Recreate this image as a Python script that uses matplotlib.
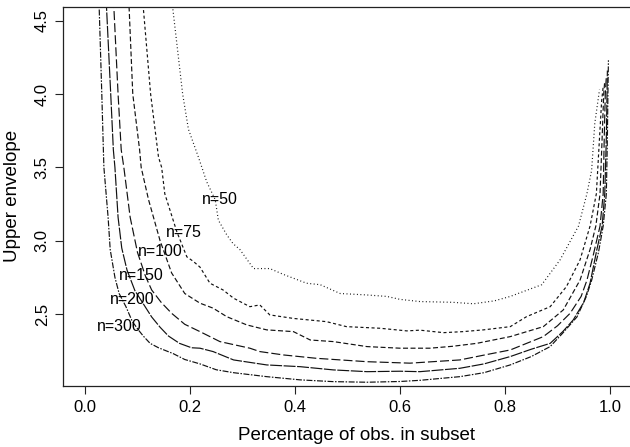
import matplotlib
matplotlib.use("Agg")
import matplotlib.pyplot as plt

plt.rcParams["font.family"] = ["Liberation Sans", "DejaVu Sans"]

# upper envelope curves, one per sample size n
x_n50 = [0.160, 0.167, 0.186, 0.197, 0.216, 0.232, 0.248, 0.254, 0.270, 0.282, 0.295, 0.321,
         0.352, 0.378, 0.422, 0.448, 0.486, 0.537, 0.575, 0.600, 0.638, 0.700, 0.740, 0.780,
         0.810, 0.840, 0.870, 0.905, 0.940, 0.956, 0.965, 0.971, 0.980]
y_n50 = [4.90, 4.59, 4.00, 3.76, 3.57, 3.40, 3.28, 3.14, 3.04, 2.98, 2.94, 2.81,
         2.81, 2.77, 2.71, 2.70, 2.64, 2.63, 2.62, 2.60, 2.585, 2.58, 2.57, 2.59,
         2.62, 2.66, 2.70, 2.87, 3.10, 3.32, 3.48, 3.80, 4.03]

x_n75 = [0.106, 0.111, 0.125, 0.140, 0.146, 0.152, 0.175, 0.194, 0.206, 0.219, 0.238, 0.263,
         0.283, 0.314, 0.333, 0.352, 0.397, 0.460, 0.498, 0.562, 0.613, 0.638, 0.683, 0.720,
         0.759, 0.810, 0.841, 0.886, 0.917, 0.943, 0.962, 0.974, 0.980, 0.984, 0.987]
y_n75 = [4.90, 4.59, 4.00, 3.57, 3.50, 3.32, 3.06, 2.89, 2.86, 2.82, 2.71, 2.664,
         2.608, 2.55, 2.562, 2.494, 2.47, 2.448, 2.414, 2.403, 2.385, 2.39, 2.373, 2.38,
         2.392, 2.414, 2.482, 2.55, 2.687, 2.87, 3.10, 3.32, 3.70, 3.95, 4.05]

x_n100 = [0.080, 0.084, 0.091, 0.104, 0.107, 0.121, 0.143, 0.165, 0.190, 0.219, 0.244, 0.270,
          0.308, 0.346, 0.397, 0.429, 0.473, 0.537, 0.600, 0.657, 0.700, 0.746, 0.810, 0.873,
          0.911, 0.943, 0.962, 0.973, 0.981, 0.985, 0.988, 0.990]
y_n100 = [4.90, 4.59, 4.00, 3.62, 3.50, 3.28, 3.00, 2.78, 2.64, 2.574, 2.54, 2.482,
          2.426, 2.392, 2.38, 2.323, 2.312, 2.278, 2.267, 2.267, 2.28, 2.30, 2.346, 2.414,
          2.528, 2.732, 2.94, 3.10, 3.32, 3.70, 4.00, 4.09]

x_n150 = [0.052, 0.055, 0.063, 0.069, 0.074, 0.086, 0.100, 0.115, 0.127, 0.145, 0.165, 0.190,
          0.219, 0.257, 0.314, 0.333, 0.378, 0.441, 0.537, 0.619, 0.714, 0.760, 0.810, 0.873,
          0.900, 0.924, 0.945, 0.956, 0.968, 0.981, 0.987, 0.989, 0.991, 0.993]
y_n150 = [4.90, 4.59, 4.00, 3.62, 3.50, 3.16, 2.92, 2.76, 2.664, 2.58, 2.505, 2.43,
          2.38, 2.312, 2.267, 2.244, 2.221, 2.198, 2.175, 2.165, 2.187, 2.22, 2.255, 2.346,
          2.42, 2.505, 2.62, 2.73, 2.90, 3.10, 3.32, 3.70, 4.00, 4.12]

x_n200 = [0.038, 0.041, 0.049, 0.054, 0.057, 0.063, 0.070, 0.080, 0.095, 0.111, 0.127, 0.143,
          0.159, 0.180, 0.203, 0.219, 0.244, 0.283, 0.346, 0.410, 0.473, 0.537, 0.600, 0.638,
          0.714, 0.760, 0.810, 0.850, 0.886, 0.910, 0.930, 0.950, 0.962, 0.975, 0.985, 0.990,
          0.993, 0.995]
y_n200 = [4.90, 4.59, 4.00, 3.62, 3.50, 3.16, 2.95, 2.80, 2.66, 2.57, 2.48, 2.41,
          2.35, 2.30, 2.27, 2.267, 2.244, 2.187, 2.153, 2.141, 2.119, 2.107, 2.11, 2.107,
          2.13, 2.16, 2.21, 2.26, 2.30, 2.38, 2.46, 2.58, 2.71, 2.94, 3.10, 3.32,
          3.70, 4.16]

x_n300 = [0.022, 0.027, 0.032, 0.035, 0.036, 0.044, 0.048, 0.057, 0.065, 0.078, 0.090, 0.102,
          0.111, 0.124, 0.140, 0.168, 0.190, 0.219, 0.250, 0.283, 0.346, 0.410, 0.473, 0.537,
          0.600, 0.638, 0.714, 0.760, 0.810, 0.850, 0.886, 0.910, 0.937, 0.955, 0.965, 0.978,
          0.987, 0.993, 0.995, 0.996, 0.997]
y_n300 = [4.90, 4.59, 4.00, 3.62, 3.50, 3.16, 2.94, 2.75, 2.64, 2.55, 2.45, 2.39,
          2.35, 2.30, 2.27, 2.23, 2.19, 2.16, 2.12, 2.10, 2.073, 2.051, 2.039, 2.035,
          2.04, 2.048, 2.073, 2.10, 2.153, 2.21, 2.278, 2.37, 2.48, 2.62, 2.73, 2.92,
          3.10, 3.32, 3.70, 4.00, 4.23]

sizes = ["n=50", "n=75", "n=100", "n=150", "n=200", "n=300"]
curves_x = [x_n50, x_n75, x_n100, x_n150, x_n200, x_n300]
curves_y = [y_n50, y_n75, y_n100, y_n150, y_n200, y_n300]
label_x = [0.256, 0.188, 0.143, 0.108, 0.090, 0.065]
label_y = [3.283, 3.058, 2.925, 2.760, 2.596, 2.414]

dash_styles = [
    (0, (0.7, 1.8)),
    (0, (2.2, 1.8)),
    (0, (3.6, 1.8)),
    (0, (6.5, 2.2)),
    (0, (8.6, 1.1)),
    (0, (4.3, 1.1, 1.1, 1.1)),
]

plt.rcParams["lines.scale_dashes"] = False

fig = plt.figure(figsize=(6.3, 4.47), dpi=100)
ax = fig.add_axes([0.1, 0.1371, 0.9016, 0.8472])

for xs, ys, ls in zip(curves_x, curves_y, dash_styles):
    ax.plot(xs, ys, color="#111111", lw=0.85, linestyle=ls)

for lab, lx, ly in zip(sizes, label_x, label_y):
    ax.text(lx, ly, lab, ha="center", va="center", fontsize=11.5)

ax.set_xlim(-0.0419, 1.04)
ax.set_ylim(2.0112, 4.5934)
ax.set_xticks([0.0, 0.2, 0.4, 0.6, 0.8, 1.0])
ax.set_yticks([2.5, 3.0, 3.5, 4.0, 4.5])
ax.set_xticklabels(["0.0", "0.2", "0.4", "0.6", "0.8", "1.0"], fontsize=12)
ax.set_yticklabels(["2.5", "3.0", "3.5", "4.0", "4.5"], fontsize=12,
                   rotation=90, va="center")
ax.tick_params(direction="out", length=5.5, width=0.8, color="#222222", pad=5)
ax.tick_params(axis="y", pad=4)
for side in ax.spines.values():
    side.set_linewidth(0.9)
    side.set_color("#222222")

ax.set_xlabel("Percentage of obs. in subset", fontsize=13.5, va="center")
ax.set_ylabel("Upper envelope", fontsize=13.5, va="center")
ax.xaxis.set_label_coords((356.5 - 63) / 568, -50 / 378.7)
ax.yaxis.set_label_coords(-50 / 568, 0.5)

fig.savefig("out.png", dpi=100)
